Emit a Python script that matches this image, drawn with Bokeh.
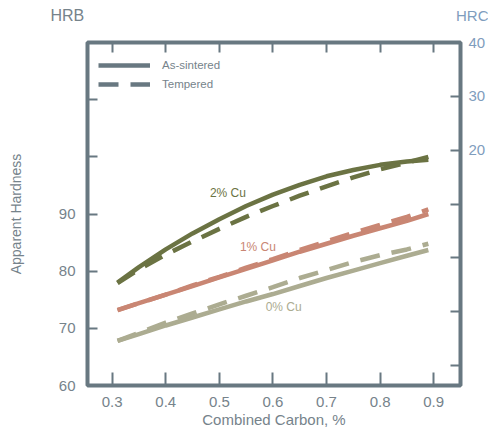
from bokeh.plotting import figure
from bokeh.models import (Range1d, LinearAxis, FixedTicker, Legend, LegendItem, Label,
                          CustomJSTickFormatter, Title)
from bokeh.embed import file_html
from bokeh.resources import INLINE

# ---- data ----
carbon = [0.31, 0.35, 0.40, 0.45, 0.50, 0.55, 0.60, 0.65, 0.70, 0.75, 0.80, 0.85, 0.89]
cu2_sintered = [78.0, 80.7, 83.8, 86.6, 89.1, 91.4, 93.4, 95.1, 96.6, 97.7, 98.6, 99.2, 99.5]
cu2_tempered = [77.9, 80.3, 82.9, 85.2, 87.4, 89.5, 91.4, 93.2, 94.85, 96.4, 97.8, 99.0, 100.0]
cu1_sintered = [73.2, 74.4, 75.9, 77.4, 78.9, 80.4, 81.9, 83.4, 84.8, 86.2, 87.5, 88.8, 90.0]
cu1_tempered = [73.2, 74.4, 75.9, 77.5, 79.0, 80.6, 82.1, 83.7, 85.2, 86.7, 88.1, 89.5, 90.8]
cu0_sintered = [67.8, 69.0, 70.5, 71.9, 73.3, 74.7, 76.0, 77.4, 78.8, 80.1, 81.4, 82.7, 83.7]
cu0_tempered = [67.8, 69.2, 71.0, 72.6, 74.2, 75.7, 77.2, 78.8, 80.2, 81.6, 82.8, 83.8, 84.8]

series_names = ["2% Cu", "1% Cu", "0% Cu"]
legend_names = ["As-sintered", "Tempered"]
scale_names = ["HRB", "HRC"]

x_ticks = [0.3, 0.4, 0.5, 0.6, 0.7, 0.8, 0.9]
hrb_ticks = [60, 70, 80, 90, 100, 110]
hrb_max_labelled = 90
hrc_ticks = [-20, -10, 0, 10, 20, 30, 40]
hrc_min_labelled = 20

# ---- styles ----
SLATE = "#687881"
GREY = "#76838b"
BLUE = "#7f9dbd"
OLIVE = "#6b7343"
SALMON = "#c98673"
KHAKI = "#acac91"
FONT = "Liberation Sans"
DASH = "20 12"
LW = 4.5

p = figure(width=488, height=430,
           x_range=Range1d(0.254, 0.95), y_range=Range1d(60, 120),
           output_backend="svg", toolbar_location=None,
           min_border_left=87, min_border_right=28,
           min_border_top=42, min_border_bottom=42)
p.title.visible = False
p.extra_y_ranges = {"hrc": Range1d(-23.7, 40)}
p.xgrid.grid_line_color = None
p.ygrid.grid_line_color = None
p.outline_line_color = SLATE
p.outline_line_width = 4
p.background_fill_color = "white"
p.border_fill_color = "white"


def style(ax, tick_in=10):
    ax.axis_line_color = None
    ax.major_tick_in = tick_in
    ax.major_tick_out = 0
    ax.major_tick_line_color = SLATE
    ax.major_tick_line_width = 2
    ax.minor_tick_line_color = None
    ax.major_label_text_color = GREY
    ax.major_label_text_font = FONT
    ax.major_label_text_font_size = "15px"
    ax.axis_label_text_font = FONT
    ax.axis_label_text_font_style = "normal"
    ax.axis_label_text_color = GREY


xa = p.xaxis[0]
xa.ticker = FixedTicker(ticks=x_ticks)
style(xa, 13)
xa.major_label_standoff = 11
xa.axis_label = "Combined Carbon, %"
xa.axis_label_text_font_size = "15px"
xa.axis_label_standoff = 1

ya = p.yaxis[0]
ya.ticker = FixedTicker(ticks=hrb_ticks)
ya.formatter = CustomJSTickFormatter(args=dict(m=hrb_max_labelled),
                                     code="return tick <= m ? tick.toFixed(0) : ''")
style(ya)
ya.major_label_standoff = 12
ya.axis_label = "Apparent Hardness"
ya.axis_label_text_font_size = "14px"
ya.axis_label_standoff = 32

ra = LinearAxis(y_range_name="hrc", ticker=FixedTicker(ticks=hrc_ticks))
ra.formatter = CustomJSTickFormatter(args=dict(m=hrc_min_labelled),
                                     code="return tick >= m ? tick.toFixed(0) : ''")
style(ra)
ra.major_label_text_color = BLUE
ra.major_label_standoff = 8
p.add_layout(ra, "right")

ta = LinearAxis(ticker=FixedTicker(ticks=x_ticks))
style(ta)
ta.formatter = CustomJSTickFormatter(code="return ''")
ta.major_label_standoff = 0
p.add_layout(ta, "above")

# invisible spacer band above the top axis, lifting the scale titles
spacer = LinearAxis(ticker=FixedTicker(ticks=x_ticks),
                    formatter=CustomJSTickFormatter(code="return ''"))
spacer.axis_line_color = None
spacer.major_tick_in = 0
spacer.major_tick_out = 25
spacer.major_tick_line_color = None
spacer.minor_tick_line_color = None
spacer.major_label_standoff = 0
p.add_layout(spacer, "above")

# scale titles: HRB over the left axis, HRC over the right axis (same row)
t_hrb = Title(text=scale_names[0], align="left", offset=-37, vertical_align="top",
              standoff=-17, text_font=FONT, text_font_size="16px",
              text_font_style="normal", text_color=GREY)
t_hrc = Title(text=scale_names[1], align="right", offset=-28, vertical_align="bottom",
              standoff=-16, text_font=FONT, text_font_size="15px",
              text_font_style="normal", text_color=BLUE)
p.add_layout(t_hrb, "above")
p.add_layout(t_hrc, "above")

# ---- curves ----
colors = [OLIVE, SALMON, KHAKI]
pairs = [(cu2_sintered, cu2_tempered), (cu1_sintered, cu1_tempered), (cu0_sintered, cu0_tempered)]
for (s, t), c in zip(pairs, colors):
    p.line(carbon, s, line_color=c, line_width=LW)
    p.line(carbon, t, line_color=c, line_width=LW, line_dash=DASH)

# curve labels
label_pos = [(0.516, 93.6), (0.572, 84.15), (0.62, 73.66)]
for name, (lx, ly), c in zip(series_names, label_pos, colors):
    p.add_layout(Label(x=lx, y=ly, text=name, text_color=c, text_font=FONT,
                       text_font_size="12px", text_align="center", text_baseline="middle"))

# legend
nan = float("nan")
r1 = p.line([0.3], [nan], line_color=SLATE, line_width=LW)
r2 = p.line([0.3], [nan], line_color=SLATE, line_width=LW, line_dash=DASH)
legend = Legend(items=[LegendItem(label=legend_names[0], renderers=[r1]),
                       LegendItem(label=legend_names[1], renderers=[r2])],
                location=(11, 293), glyph_width=52, glyph_height=16, label_height=16,
                spacing=3, padding=0, margin=0, label_standoff=12,
                background_fill_alpha=0, border_line_color=None,
                label_text_font=FONT, label_text_font_size="11.5px", label_text_color=GREY)
p.add_layout(legend, "center")

open("out.html", "w").write(file_html(p, INLINE))
